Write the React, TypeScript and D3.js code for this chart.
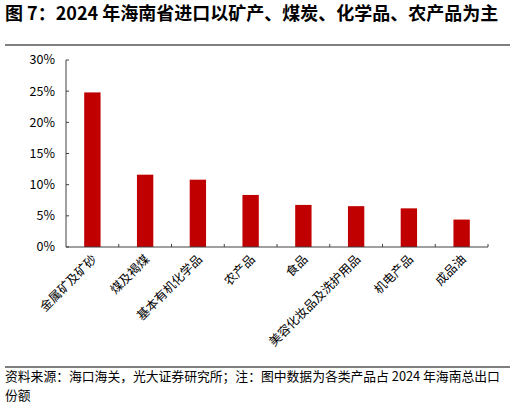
import React from "react";
import * as d3 from "d3";

const categories = ["金属矿及矿砂", "煤及褐煤", "基本有机化学品", "农产品", "食品", "美容化妆品及洗护用品", "机电产品", "成品油"];
const shares = [24.8, 11.6, 10.8, 8.35, 6.75, 6.55, 6.2, 4.4];
const yTicks = [0, 5, 10, 15, 20, 25, 30];
const title = "图 7：2024 年海南省进口以矿产、煤炭、化学品、农产品为主";
const sourceLines = ["资料来源：海口海关，光大证券研究所；注：图中数据为各类产品占 2024 年海南总出口", "份额"];

const W = 515, H = 406;
const left = 66, right = 488, top = 60, bottom = 247;
const font = "'Noto Sans CJK SC', 'Noto Sans', sans-serif";

export default function App() {
  const x = d3.scaleBand<string>().domain(categories).range([left, right]).paddingInner(0.69).paddingOuter(0.345);
  const xb = d3.scaleBand<string>().domain(categories).range([left, right]);
  const y = d3.scaleLinear().domain([0, 30]).range([bottom, top]);
  return (
    <svg width={W} height={H} style={{ position: "absolute", left: 0, top: 0, background: "#fff" }} fontFamily={font}>
      <text x={5} y={20} fontSize={18} fontWeight="bold" fill="#000">{title}</text>
      <line x1={5} x2={510} y1={45} y2={45} stroke="#000" strokeWidth={1} />
      {categories.map((c, i) => (
        <rect key={c} x={x(c)} y={y(shares[i])} width={x.bandwidth()} height={bottom - y(shares[i])} fill="#C00000" />
      ))}
      <line x1={left} x2={left} y1={top} y2={bottom} stroke="#404040" />
      <line x1={left} x2={right} y1={bottom} y2={bottom} stroke="#404040" />
      {yTicks.map(t => (
        <g key={t}>
          <line x1={left} x2={left + 3} y1={y(t)} y2={y(t)} stroke="#404040" />
          <text x={55} y={y(t)} dy="0.35em" textAnchor="end" fontSize={12.5} fill="#000">{t}%</text>
        </g>
      ))}
      {categories.map(c => (
        <line key={"t" + c} x1={(xb(c) as number) + xb.bandwidth()} x2={(xb(c) as number) + xb.bandwidth()} y1={bottom} y2={bottom - 3} stroke="#404040" />
      ))}
      {categories.map(c => {
        const cx = (xb(c) as number) + xb.bandwidth() / 2 + 2;
        return (
          <text key={"l" + c} transform={`translate(${cx},${bottom + 10}) rotate(-45)`} textAnchor="end" fontSize={12.3} dy="0.35em" fill="#000">{c}</text>
        );
      })}
      <line x1={5} x2={510} y1={367} y2={367} stroke="#555" strokeWidth={1.5} />
      {sourceLines.map((s, i) => (
        <text key={i} x={5} y={381 + i * 19} fontSize={12.8} fill="#000">{s}</text>
      ))}
    </svg>
  );
}
